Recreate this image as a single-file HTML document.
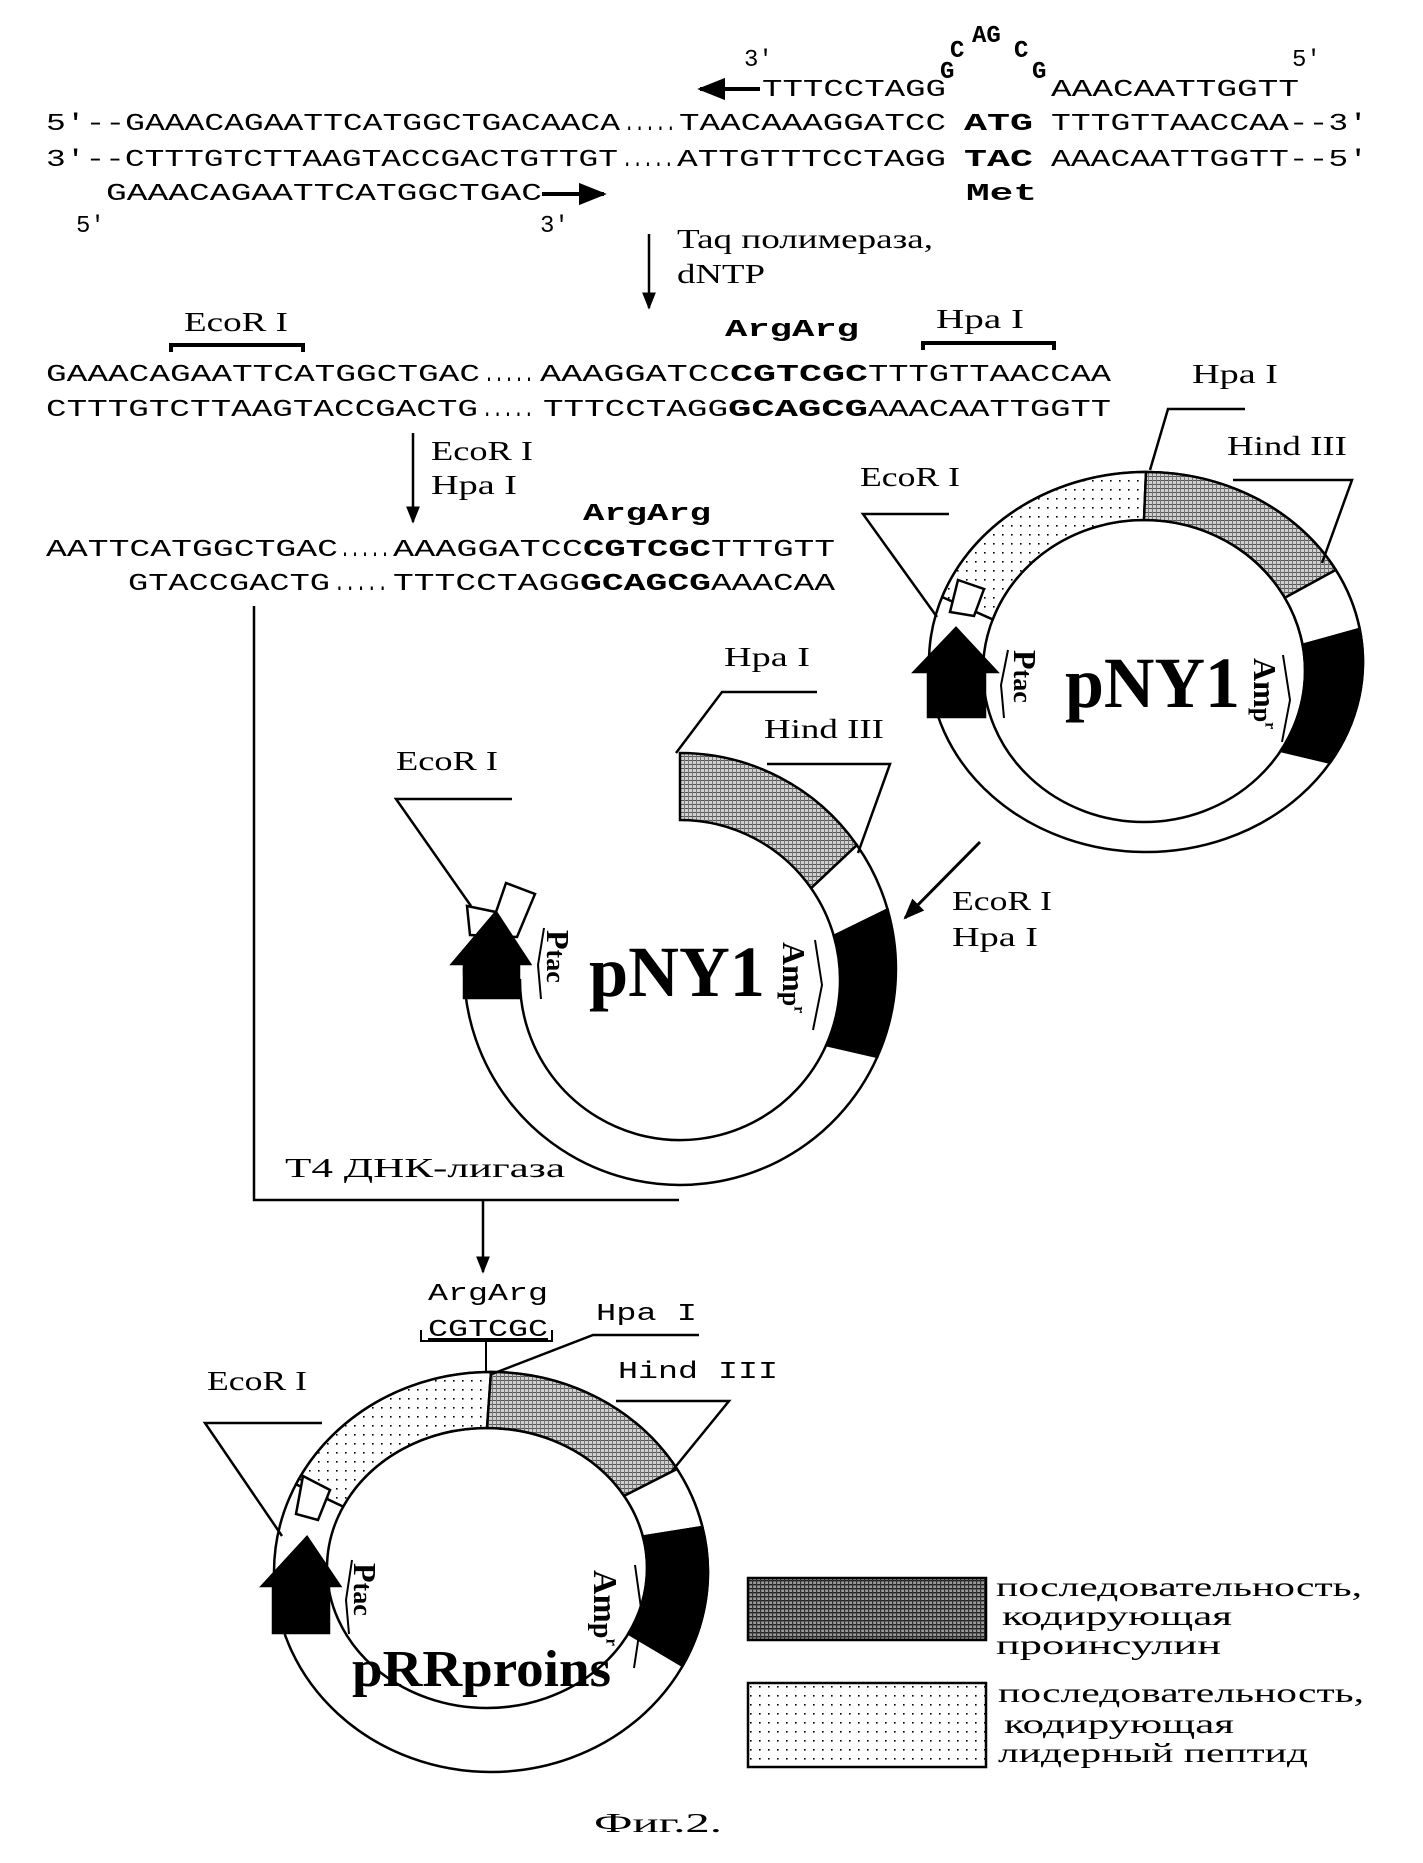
<!DOCTYPE html>
<html><head><meta charset="utf-8"><style>
html,body{margin:0;padding:0;background:#fff}
svg{display:block}
.m{font-family:"Liberation Mono",monospace;font-size:24px}
.mb{font-family:"Liberation Mono",monospace;font-size:24px;font-weight:bold}
.s{font-family:"Liberation Serif","DejaVu Serif",serif;font-size:27px}
.big{font-family:"Liberation Serif",serif;font-weight:bold}
</style></head><body>
<svg id="svg" width="1423" height="1863" viewBox="0 0 1423 1863" xmlns="http://www.w3.org/2000/svg">
<defs>
<pattern id="dots" width="9" height="9" patternUnits="userSpaceOnUse"><rect width="9" height="9" fill="#fff"/><rect x="3" y="3" width="1.6" height="1.6" fill="#000"/></pattern>
<pattern id="hatch" width="4" height="4" patternUnits="userSpaceOnUse"><rect width="4" height="4" fill="#d0d0d0"/><rect width="4" height="1" fill="#555"/><rect width="1" height="4" fill="#777"/></pattern>
<pattern id="hatch2" width="4" height="4" patternUnits="userSpaceOnUse"><rect width="4" height="4" fill="#999"/><rect width="4" height="1.4" fill="#222"/><rect width="1.2" height="4" fill="#333"/></pattern>
<marker id="ah" viewBox="0 0 10 10" refX="9" refY="5" markerWidth="7" markerHeight="7" orient="auto"><path d="M0,1 L10,5 L0,9z" fill="#000"/></marker>
</defs>
<g fill="#000">
<text class="m" x="744" y="66">3'</text>
<text class="m" x="1292" y="66">5'</text>
<text class="mb" x="940" y="78" font-size="28">G</text>
<text class="mb" x="950" y="57" font-size="28">C</text>
<text class="mb" x="972" y="42" font-size="26">AG</text>
<text class="mb" x="1014" y="57" font-size="28">C</text>
<text class="mb" x="1032" y="78" font-size="28">G</text>
<line x1="760" y1="89" x2="700" y2="89" stroke="#000" stroke-width="4" marker-end="url(#ah)"/>
<text class="m" x="762" y="96" textLength="184" lengthAdjust="spacingAndGlyphs">TTTCCTAGG</text>
<text class="m" x="1051" y="96" textLength="248" lengthAdjust="spacingAndGlyphs">AAACAATTGGTT</text>

<text class="m" x="46" y="130" textLength="574" lengthAdjust="spacingAndGlyphs">5'--GAAACAGAATTCATGGCTGACAACA</text>
<text class="m" x="624" y="130" textLength="52" lengthAdjust="spacingAndGlyphs">.....</text>
<text class="m" x="679" y="130" textLength="267" lengthAdjust="spacingAndGlyphs">TAACAAAGGATCC</text>
<text class="mb" x="964" y="130" textLength="69" lengthAdjust="spacingAndGlyphs">ATG</text>
<text class="m" x="1051" y="130" textLength="317" lengthAdjust="spacingAndGlyphs">TTTGTTAACCAA--3'</text>

<text class="m" x="46" y="166" textLength="572" lengthAdjust="spacingAndGlyphs">3'--CTTTGTCTTAAGTACCGACTGTTGT</text>
<text class="m" x="622" y="166" textLength="52" lengthAdjust="spacingAndGlyphs">.....</text>
<text class="m" x="677" y="166" textLength="269" lengthAdjust="spacingAndGlyphs">ATTGTTTCCTAGG</text>
<text class="mb" x="964" y="166" textLength="69" lengthAdjust="spacingAndGlyphs">TAC</text>
<text class="m" x="1051" y="166" textLength="317" lengthAdjust="spacingAndGlyphs">AAACAATTGGTT--5'</text>

<text class="m" x="106" y="200" textLength="436" lengthAdjust="spacingAndGlyphs">GAAACAGAATTCATGGCTGAC</text>
<line x1="542" y1="194" x2="604" y2="194" stroke="#000" stroke-width="4" marker-end="url(#ah)"/>
<text class="mb" x="966" y="200" textLength="71" lengthAdjust="spacingAndGlyphs">Met</text>
<text class="m" x="76" y="232">5'</text>
<text class="m" x="540" y="232">3'</text>

<line x1="649" y1="234" x2="649" y2="308" stroke="#000" stroke-width="2.5" marker-end="url(#ah)"/>
<text class="s" x="677" y="248" textLength="256" lengthAdjust="spacingAndGlyphs">Taq полимераза,</text>
<text class="s" x="677" y="283" textLength="88" lengthAdjust="spacingAndGlyphs">dNTP</text>

<text class="s" x="184" y="331" textLength="104" lengthAdjust="spacingAndGlyphs">EcoR I</text>
<path d="M171,352 V345 H303 V352" fill="none" stroke="#000" stroke-width="4"/>
<text class="mb" x="725" y="336" textLength="134" lengthAdjust="spacingAndGlyphs">ArgArg</text>
<text class="s" x="936" y="328" textLength="88" lengthAdjust="spacingAndGlyphs">Hpa I</text>
<path d="M923,350 V343 H1054 V350" fill="none" stroke="#000" stroke-width="4"/>

<text class="m" x="46" y="381" textLength="434" lengthAdjust="spacingAndGlyphs">GAAACAGAATTCATGGCTGAC</text>
<text class="m" x="484" y="381" textLength="50" lengthAdjust="spacingAndGlyphs">.....</text>
<text class="m" x="540" y="381" textLength="190" lengthAdjust="spacingAndGlyphs">AAAGGATCC</text>
<text class="mb" x="730" y="381" textLength="138" lengthAdjust="spacingAndGlyphs">CGTCGC</text>
<text class="m" x="868" y="381" textLength="243" lengthAdjust="spacingAndGlyphs">TTTGTTAACCAA</text>

<text class="m" x="46" y="416" textLength="432" lengthAdjust="spacingAndGlyphs">CTTTGTCTTAAGTACCGACTG</text>
<text class="m" x="482" y="416" textLength="52" lengthAdjust="spacingAndGlyphs">.....</text>
<text class="m" x="543" y="416" textLength="185" lengthAdjust="spacingAndGlyphs">TTTCCTAGG</text>
<text class="mb" x="728" y="416" textLength="140" lengthAdjust="spacingAndGlyphs">GCAGCG</text>
<text class="m" x="868" y="416" textLength="243" lengthAdjust="spacingAndGlyphs">AAACAATTGGTT</text>

<line x1="413" y1="433" x2="413" y2="522" stroke="#000" stroke-width="2.5" marker-end="url(#ah)"/>
<text class="s" x="431" y="460" textLength="102" lengthAdjust="spacingAndGlyphs">EcoR I</text>
<text class="s" x="431" y="494" textLength="86" lengthAdjust="spacingAndGlyphs">Hpa I</text>
<text class="mb" x="583" y="520" textLength="128" lengthAdjust="spacingAndGlyphs">ArgArg</text>

<text class="m" x="46" y="556" textLength="292" lengthAdjust="spacingAndGlyphs">AATTCATGGCTGAC</text>
<text class="m" x="340" y="556" textLength="50" lengthAdjust="spacingAndGlyphs">.....</text>
<text class="m" x="393" y="556" textLength="190" lengthAdjust="spacingAndGlyphs">AAAGGATCC</text>
<text class="mb" x="583" y="556" textLength="128" lengthAdjust="spacingAndGlyphs">CGTCGC</text>
<text class="m" x="711" y="556" textLength="124" lengthAdjust="spacingAndGlyphs">TTTGTT</text>

<text class="m" x="128" y="590" textLength="202" lengthAdjust="spacingAndGlyphs">GTACCGACTG</text>
<text class="m" x="334" y="590" textLength="54" lengthAdjust="spacingAndGlyphs">.....</text>
<text class="m" x="393" y="590" textLength="187" lengthAdjust="spacingAndGlyphs">TTTCCTAGG</text>
<text class="mb" x="580" y="590" textLength="131" lengthAdjust="spacingAndGlyphs">GCAGCG</text>
<text class="m" x="711" y="590" textLength="124" lengthAdjust="spacingAndGlyphs">AAACAA</text>

<path d="M254,606 V1200 H679" fill="none" stroke="#000" stroke-width="2.5"/>
<line x1="483" y1="1200" x2="483" y2="1272" stroke="#000" stroke-width="2.5" marker-end="url(#ah)"/>
<text class="s" x="285" y="1177" textLength="280" lengthAdjust="spacingAndGlyphs">T4 ДНК-лигаза</text>
</g>

<g id="rings" stroke="#000" stroke-width="2.5"></g>

<g fill="#000">
<text class="s" x="1192" y="383" textLength="86" lengthAdjust="spacingAndGlyphs">Hpa I</text>
<polyline points="1150,470 1168,409 1245,409" fill="none" stroke="#000" stroke-width="2.5"/>
<text class="s" x="1227" y="455" textLength="120" lengthAdjust="spacingAndGlyphs">Hind III</text>
<polyline points="1322,563 1352,480 1233,480" fill="none" stroke="#000" stroke-width="2.5"/>
<text class="s" x="860" y="486" textLength="100" lengthAdjust="spacingAndGlyphs">EcoR I</text>
<polyline points="949,514 863,514 937,617" fill="none" stroke="#000" stroke-width="2.5"/>
<text class="big" x="1065" y="707" font-size="72" textLength="175" lengthAdjust="spacingAndGlyphs">pNY1</text>
<line x1="980" y1="842" x2="905" y2="918" stroke="#000" stroke-width="3" marker-end="url(#ah)"/>
<text class="s" x="952" y="910" textLength="100" lengthAdjust="spacingAndGlyphs">EcoR I</text>
<text class="s" x="952" y="946" textLength="86" lengthAdjust="spacingAndGlyphs">Hpa I</text>

<text class="s" x="724" y="666" textLength="86" lengthAdjust="spacingAndGlyphs">Hpa I</text>
<polyline points="676,753 722,692 817,692" fill="none" stroke="#000" stroke-width="2.5"/>
<text class="s" x="764" y="738" textLength="120" lengthAdjust="spacingAndGlyphs">Hind III</text>
<polyline points="858,853 890,764 767,764" fill="none" stroke="#000" stroke-width="2.5"/>
<text class="s" x="396" y="770" textLength="102" lengthAdjust="spacingAndGlyphs">EcoR I</text>
<polyline points="512,799 396,799 471,906" fill="none" stroke="#000" stroke-width="2.5"/>
<text class="big" x="589" y="996" font-size="72" textLength="176" lengthAdjust="spacingAndGlyphs">pNY1</text>

<text class="m" x="428" y="1300" textLength="120" lengthAdjust="spacingAndGlyphs">ArgArg</text>
<text class="m" x="428" y="1336" textLength="120" lengthAdjust="spacingAndGlyphs" text-decoration="underline">CGTCGC</text>
<path d="M421,1330 V1341 H552 V1330 M486,1341 V1372" fill="none" stroke="#000" stroke-width="2"/>
<text class="m" x="596" y="1320" textLength="101" lengthAdjust="spacingAndGlyphs">Hpa I</text>
<polyline points="492,1374 593,1335 699,1335" fill="none" stroke="#000" stroke-width="2.5"/>
<text class="m" x="618" y="1378" textLength="160" lengthAdjust="spacingAndGlyphs">Hind III</text>
<polyline points="672,1471 729,1401 616,1401" fill="none" stroke="#000" stroke-width="2.5"/>
<text class="s" x="207" y="1390" textLength="100" lengthAdjust="spacingAndGlyphs">EcoR I</text>
<polyline points="322,1423 205,1423 282,1536" fill="none" stroke="#000" stroke-width="2.5"/>
<text class="big" x="352" y="1686" font-size="52" textLength="259" lengthAdjust="spacingAndGlyphs">pRRproins</text>

<rect x="748" y="1578" width="238" height="62" fill="url(#hatch2)" stroke="#000" stroke-width="2.5"/>
<rect x="748" y="1683" width="238" height="84" fill="url(#dots)" stroke="#000" stroke-width="2.5"/>
<text class="s" x="996" y="1596" font-size="30" textLength="366" lengthAdjust="spacingAndGlyphs">последовательность,</text>
<text class="s" x="1002" y="1625" font-size="30" textLength="230" lengthAdjust="spacingAndGlyphs">кодирующая</text>
<text class="s" x="996" y="1654" font-size="30" textLength="225" lengthAdjust="spacingAndGlyphs">проинсулин</text>
<text class="s" x="998" y="1702" font-size="30" textLength="366" lengthAdjust="spacingAndGlyphs">последовательность,</text>
<text class="s" x="1004" y="1733" font-size="30" textLength="230" lengthAdjust="spacingAndGlyphs">кодирующая</text>
<text class="s" x="998" y="1762" font-size="30" textLength="310" lengthAdjust="spacingAndGlyphs">лидерный пептид</text>
<text class="s" x="594" y="1832" font-size="30" textLength="128" lengthAdjust="spacingAndGlyphs">Фиг.2.</text>
</g>

<script>
(function(){
var NS="http://www.w3.org/2000/svg",g=document.getElementById('rings');
function pt(e,a){a=a*Math.PI/180;return (e[0]+e[2]*Math.cos(a)).toFixed(1)+','+(e[1]+e[3]*Math.sin(a)).toFixed(1);}
function add(tag,attrs){var p=document.createElementNS(NS,tag);for(var k in attrs)p.setAttribute(k,attrs[k]);g.appendChild(p);return p;}
function seg(o,i,a1,a2,fill){
 var span=a2-a1,lg=span>180?1:0;
 var d='M'+pt(o,a1)+' A'+o[2]+' '+o[3]+' 0 '+lg+' 1 '+pt(o,a2)+' L'+pt(i,a2)+' A'+i[2]+' '+i[3]+' 0 '+lg+' 0 '+pt(i,a1)+'Z';
 add('path',{d:d,fill:fill});}
function ring(o,i){add('ellipse',{cx:o[0],cy:o[1],rx:o[2],ry:o[3],fill:'#fff'});add('ellipse',{cx:i[0],cy:i[1],rx:i[2],ry:i[3],fill:'#fff'});}
function poly(pts,fill){add('polygon',{points:pts,fill:fill});}
function pl(pts){add('polyline',{points:pts,fill:'none','stroke-width':'2'});}
function lab(x,y,big,small,size,len,sup){
 var t=add('text',{x:x,y:y,'font-family':'Liberation Serif, serif','font-weight':'bold',stroke:'none',fill:'#000',transform:'rotate(90 '+x+' '+y+')'});
 var a=document.createElementNS(NS,'tspan');a.setAttribute('font-size',size+6);a.textContent=big;t.appendChild(a);
 var b=document.createElementNS(NS,'tspan');b.setAttribute('font-size',size);b.textContent=small;t.appendChild(b);
 if(sup){var c=document.createElementNS(NS,'tspan');c.setAttribute('font-size',size*0.6);c.setAttribute('dy',-size*0.45);c.textContent=sup;t.appendChild(c);}
}
var o=[1146,662,217,190],i=[1144,671,161,151];
ring(o,i);
seg(o,i,200,270,'url(#dots)');seg(o,i,270,331,'url(#hatch)');seg(o,i,331,350,'#fff');seg(o,i,350,392,'#000');
poly('958,580 984,589 974,616 950,612','#fff');
poly('928,717 928,672 914,672 956,628 997,672 985,672 985,717','#000');
lab(1014,650,'P','tac',26);lab(1254,658,'Am','p',26,0,'r');
pl('1008,650 1001,685 1004,718');pl('1283,655 1290,700 1282,742');
o=[680,969,216,216];i=[680,980,160,160];
seg(o,i,270,325,'url(#hatch)');seg(o,i,325,344,'#fff');seg(o,i,344,384,'#000');seg(o,i,24,180,'#fff');
poly('467,906 496,912 506,883 535,894 517,937 470,935','#fff');
poly('464,998 464,964 452,964 496,912 530,964 519,964 519,998','#000');
lab(547,930,'P','tac',26);lab(783,942,'Am','p',26,0,'r');
pl('544,928 538,965 541,999');pl('815,940 822,985 813,1030');
o=[491,1572,217,200];i=[487,1568,160,140];
ring(o,i);
seg(o,i,206,270,'url(#dots)');seg(o,i,270,329,'url(#hatch)');seg(o,i,329,347,'#fff');seg(o,i,347,388,'#000');
poly('303,1476 330,1490 318,1520 296,1514','#fff');
poly('273,1633 273,1586 262,1586 307,1537 340,1586 329,1586 329,1633','#000');
lab(354,1563,'P','tac',26);lab(594,1570,'Am','p',28,0,'r');
pl('352,1560 346,1600 349,1634');pl('635,1565 642,1615 634,1668');
})();
</script>
</svg>
</body></html>
